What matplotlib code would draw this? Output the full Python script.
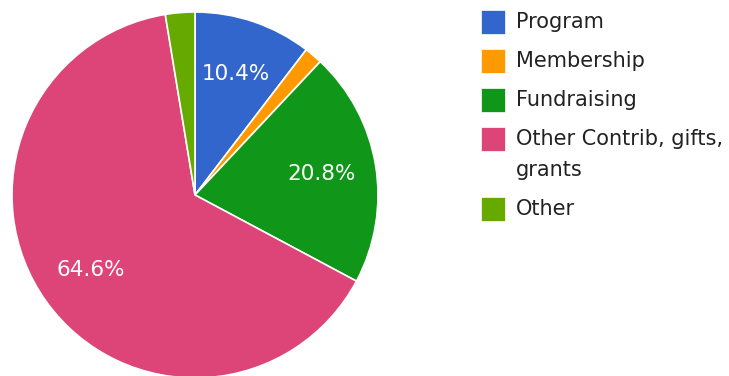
import textwrap
import matplotlib
matplotlib.use("Agg")
import matplotlib.pyplot as plt
from matplotlib.patches import Rectangle

categories = ["Program", "Membership", "Fundraising",
              "Other Contrib, gifts, grants", "Other"]
shares = [10.4, 1.6, 20.8, 64.6, 2.6]
colors = ["#3366cc", "#ff9900", "#109618", "#dd4477", "#66aa00"]

W, H = 729, 376
fig = plt.figure(figsize=(W / 100, H / 100), dpi=100)
fig.patch.set_facecolor("white")

# pie: centre (195, 195) px, radius 183 px
cx, cy, r = 195, 195, 183
ax = fig.add_axes([(cx - r) / W, (H - cy - r) / H, 2 * r / W, 2 * r / H])
wedges, _, autotexts = ax.pie(
    shares, colors=colors, startangle=90, counterclock=False,
    autopct=lambda p: f"{p:.1f}%" if p > 5 else "",
    pctdistance=0.70, radius=1.0,
    wedgeprops=dict(edgecolor="white", linewidth=1.2),
    textprops=dict(color="white", fontsize=15.5, family="DejaVu Sans"),
)
ax.set_xlim(-1, 1)
ax.set_ylim(-1, 1)
ax.set_aspect("equal")
ax.axis("off")

# legend on the right
sw = 24
x_sw, x_txt = 481, 516
y = 22
for label, col in zip(categories, colors):
    lines = textwrap.fill(label, width=21).split("\n")
    fig.patches.append(Rectangle(((x_sw) / W, (H - y - sw / 2) / H), sw / W, sw / H,
                                 transform=fig.transFigure, facecolor=col,
                                 edgecolor="white", linewidth=0.5))
    for i, line in enumerate(lines):
        fig.text(x_txt / W, (H - y - i * 31) / H, line, fontsize=15,
                 family="DejaVu Sans", color="#222222", va="center", ha="left")
    y += 39 + 31 * (len(lines) - 1)

fig.savefig("out.png", dpi=100)
